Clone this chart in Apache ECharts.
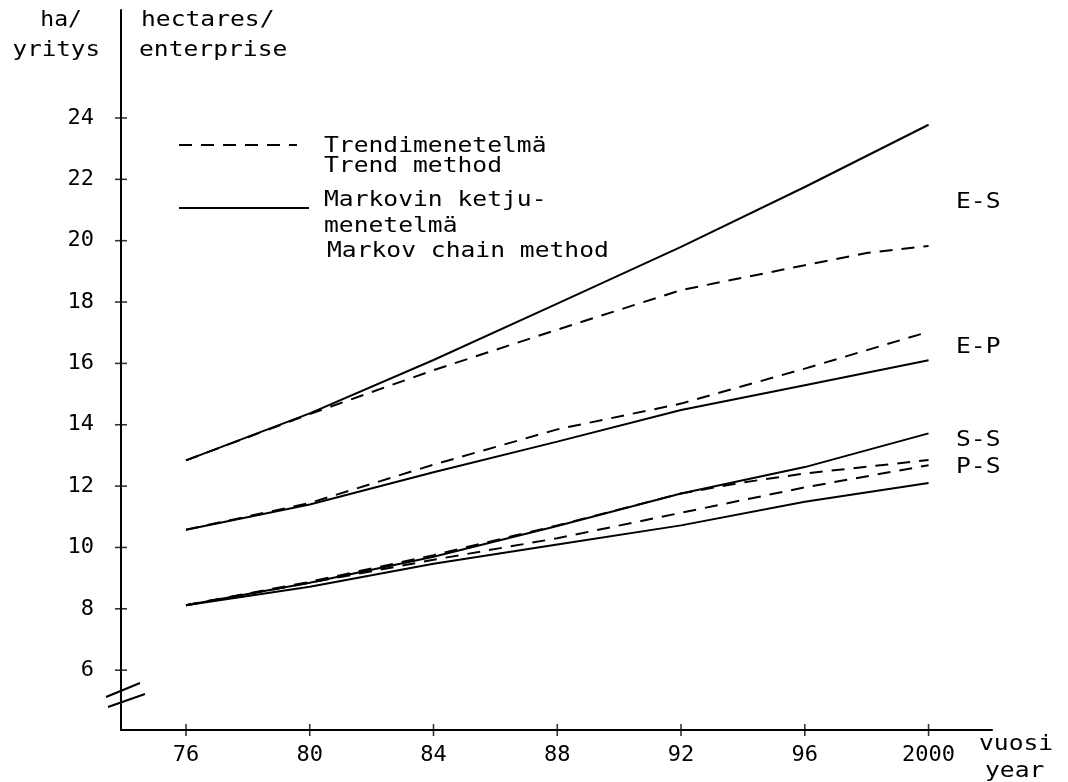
<!DOCTYPE html>
<html>
<head>
<meta charset="utf-8">
<script src="https://cdn.jsdelivr.net/npm/echarts@6/dist/echarts.min.js"></script>
<style>
html,body{margin:0;padding:0;background:#fff;}
#c{width:1068px;height:782px;}
</style>
</head>
<body>
<div id="c"></div>
<script>
// ---- data ----
const years = [1976, 1980, 1984, 1988, 1992, 1996, 2000];
const xTickLabels = ['76', '80', '84', '88', '92', '96', '2000'];
const yTicks = [6, 8, 10, 12, 14, 16, 18, 20, 22, 24];

const esMarkov = [12.84, 14.37, 16.11, 17.95, 19.8, 21.75, 23.78];
const esTrendYears = [1976, 1980, 1984, 1988, 1992, 1996, 1998, 2000];
const esTrend = [12.84, 14.35, 15.78, 17.1, 18.39, 19.2, 19.6, 19.83];

const epMarkov = [10.58, 11.4, 12.45, 13.45, 14.48, 15.29, 16.1];
const epTrend = [10.58, 11.45, 12.7, 13.85, 14.69, 15.83, 17.03];

const ssMarkov = [8.12, 8.85, 9.7, 10.7, 11.76, 12.62, 13.72];
const ssTrendYears = [1976, 1980, 1984, 1988, 1992, 1994, 1996, 2000];
const ssTrend = [8.12, 8.88, 9.75, 10.72, 11.76, 12.12, 12.41, 12.85];

const psMarkov = [8.12, 8.72, 9.47, 10.1, 10.72, 11.49, 12.1];
const psTrend = [8.12, 8.85, 9.6, 10.3, 11.13, 11.96, 12.68];

const FONT = 'DejaVu Sans Mono';
const dash = [13, 9];

function pairs(xs, ys) { return xs.map((x, i) => [x, ys[i]]); }

function solid(name, ys) {
  return { name: name, type: 'line', data: pairs(years, ys), symbol: 'none', smooth: false,
    lineStyle: { color: '#000', width: 2 }, silent: true };
}
function dashed(name, xs, ys) {
  return { name: name, type: 'line', data: pairs(xs, ys), symbol: 'none', smooth: false,
    lineStyle: { color: '#000', width: 2, type: dash }, silent: true };
}

const xMin = 1973.9, xMax = 2002.05, yMin = 4.05, yMax = 27.52;

const chart = echarts.init(document.getElementById('c'), null, { renderer: 'canvas' });

function txt(x, y, s, opts) {
  return Object.assign({
    type: 'text', x: x, y: y, scaleX: 1.12,
    style: { text: s, fill: '#000', font: '22px "' + FONT + '"', textVerticalAlign: 'middle' }
  }, opts || {});
}
function rtxt(x, y, s, sx) {
  return { type: 'text', x: x, y: y, scaleX: sx,
    style: { text: s, fill: '#000', font: '22px "' + FONT + '"', textAlign: 'right', textVerticalAlign: 'middle' } };
}

// crossing tick marks, placed through the axes' own scales
const yTickMarks = {
  name: 'y-ticks', type: 'scatter', data: yTicks.map(v => [xMin, v]),
  symbol: 'rect', symbolSize: [12, 1.6], itemStyle: { color: '#000' }, clip: false, silent: true, z: 5
};
const xTickMarks = {
  name: 'x-ticks', type: 'scatter', data: years.map(v => [v, yMin]),
  symbol: 'rect', symbolSize: [1.6, 12], itemStyle: { color: '#000' }, clip: false, silent: true, z: 5
};

chart.setOption({
  animation: false,
  backgroundColor: '#fff',
  grid: { left: 121, right: 76, top: 10, bottom: 52, containLabel: false, outerBoundsMode: 'none' },
  xAxis: {
    type: 'value', min: xMin, max: xMax, position: 'bottom',
    axisLine: { show: true, onZero: false, lineStyle: { color: '#000', width: 2 } },
    axisTick: { show: false },
    axisLabel: { show: true, margin: 14, color: '#000', fontFamily: FONT, fontSize: 22, customValues: years,
      formatter: v => xTickLabels[years.indexOf(Math.round(v))] || '' },
    splitLine: { show: false }
  },
  yAxis: {
    type: 'value', min: yMin, max: yMax, position: 'left',
    axisLine: { show: true, onZero: false, lineStyle: { color: '#000', width: 2 } },
    axisTick: { show: false },
    axisLabel: { show: true, margin: 27, color: '#000', fontFamily: FONT, fontSize: 22, customValues: yTicks },
    splitLine: { show: false }
  },
  series: [
    solid('E-S Markov', esMarkov),
    dashed('E-S Trend', esTrendYears, esTrend),
    solid('E-P Markov', epMarkov),
    dashed('E-P Trend', years, epTrend),
    solid('S-S Markov', ssMarkov),
    dashed('S-S Trend', ssTrendYears, ssTrend),
    solid('P-S Markov', psMarkov),
    dashed('P-S Trend', years, psTrend),
    yTickMarks,
    xTickMarks
  ],
  graphic: [
    // axis break marks
    { type: 'line', shape: { x1: 106, y1: 697, x2: 140, y2: 683 }, style: { stroke: '#000', lineWidth: 2 } },
    { type: 'line', shape: { x1: 108, y1: 707, x2: 145, y2: 694 }, style: { stroke: '#000', lineWidth: 2 } },
    // y axis titles
    rtxt(82, 20, 'ha/', 1.05),
    rtxt(100, 50, 'yritys', 1.1),
    txt(141, 20, 'hectares/'),
    txt(139, 50, 'enterprise'),
    // legend
    { type: 'line', shape: { x1: 179, y1: 145, x2: 297, y2: 145 }, style: { stroke: '#000', lineWidth: 2, lineDash: [13, 9] } },
    txt(324, 146, 'Trendimenetelmä'),
    txt(324, 166, 'Trend method'),
    { type: 'line', shape: { x1: 179, y1: 208, x2: 309, y2: 208 }, style: { stroke: '#000', lineWidth: 2 } },
    txt(324, 200, 'Markovin ketju-'),
    txt(324, 226, 'menetelmä'),
    txt(327, 251, 'Markov chain method'),
    // series annotations
    txt(956, 202, 'E-S'),
    txt(956, 347, 'E-P'),
    txt(956, 440, 'S-S'),
    txt(956, 467, 'P-S'),
    // x axis title
    txt(979, 744, 'vuosi'),
    txt(985, 771, 'year')
  ]
});
</script>
</body>
</html>
